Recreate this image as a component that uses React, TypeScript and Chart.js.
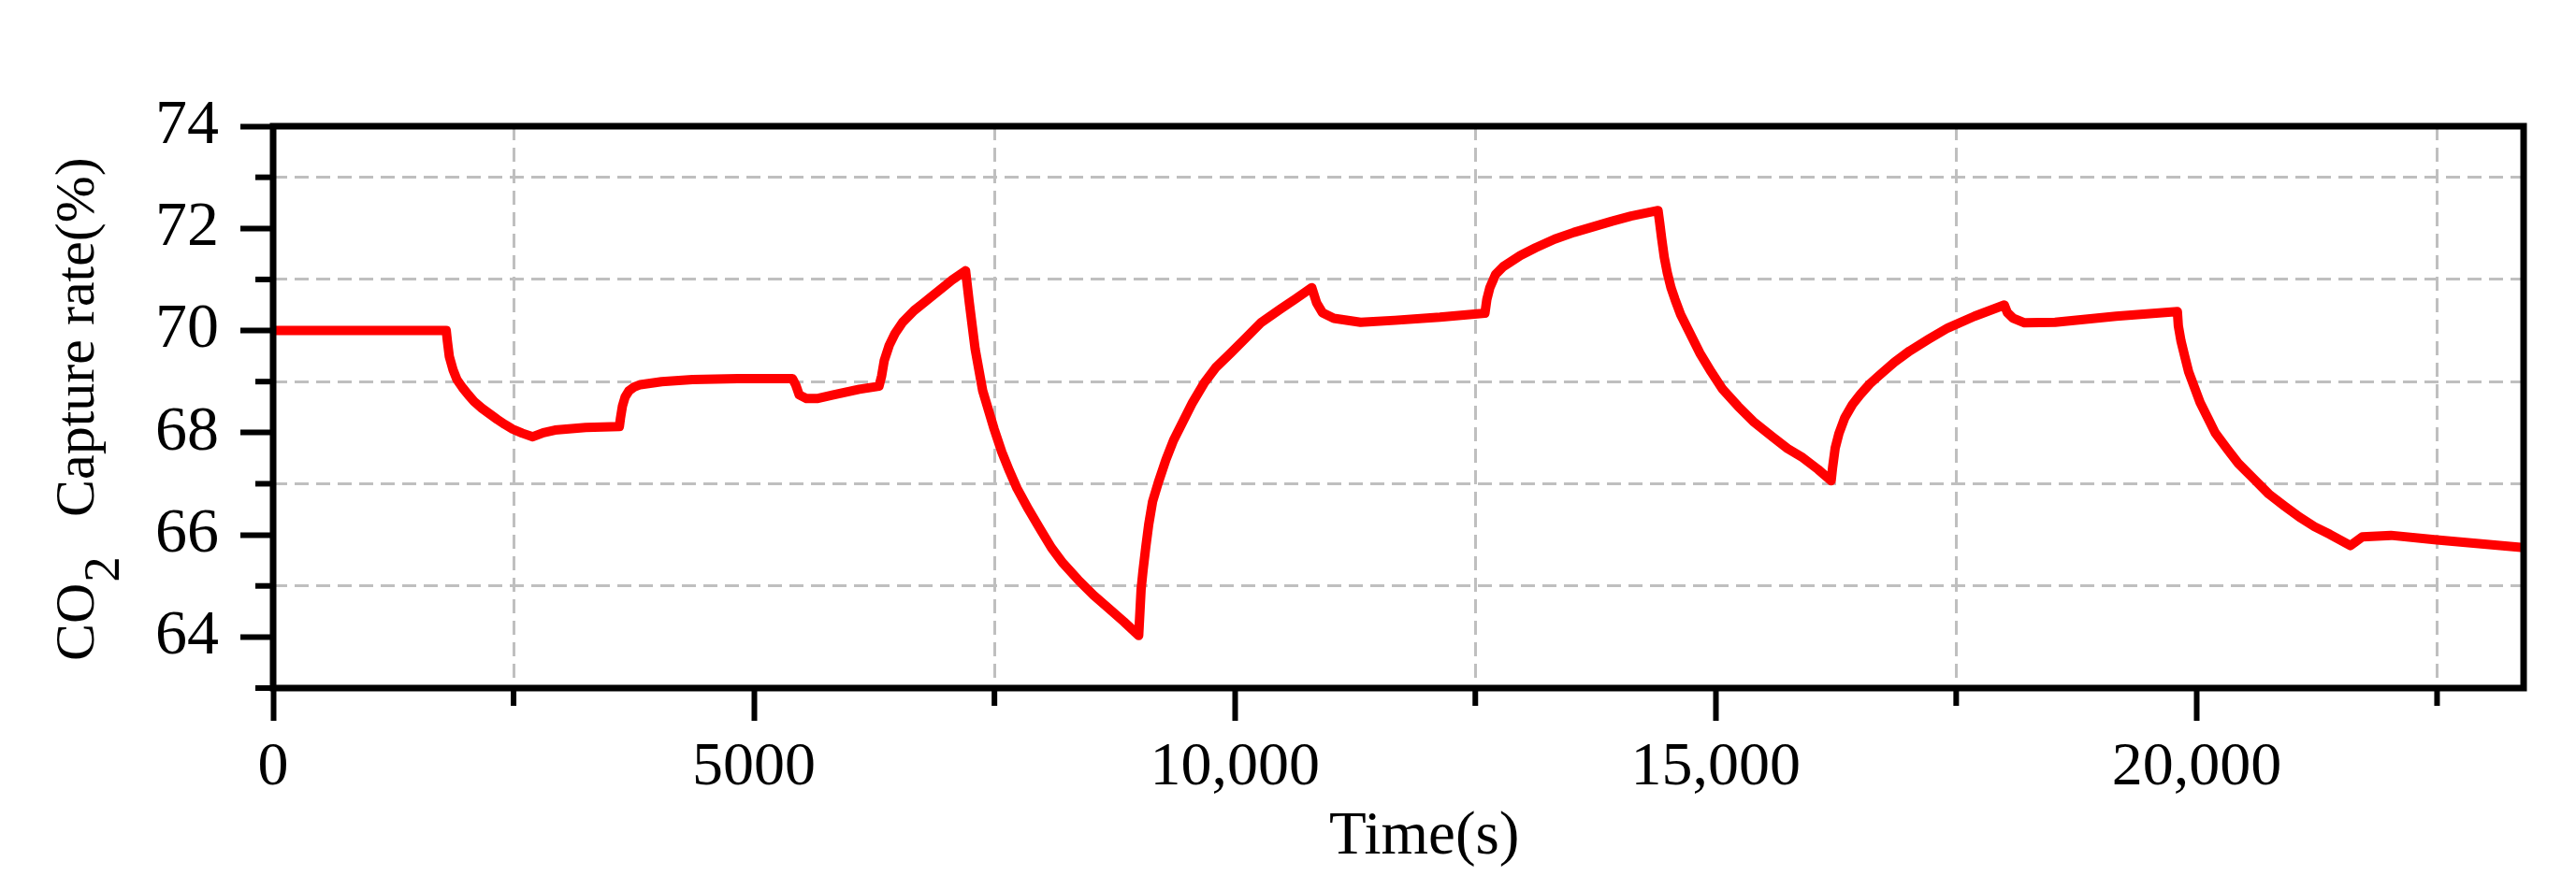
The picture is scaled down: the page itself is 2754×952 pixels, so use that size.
import { useEffect, useRef } from 'react';
import { Chart, ChartConfiguration, Plugin, registerables } from 'chart.js';

Chart.register(...registerables);

// CO2 capture rate over time
const timeS = [
  0, 1800, 1812, 1832, 1871, 1911, 1970, 2030, 2090, 2170, 2250, 2330, 2410, 2490, 2590, 2700,
  2810, 2930, 3250, 3600,
  3612, 3632, 3660, 3700, 3750, 3818, 4040, 4360, 4830, 5400,
  5435, 5470, 5545, 5665, 5825, 6095, 6300,
  6327, 6354, 6406, 6466, 6545, 6664, 6763, 6862, 6962, 7061, 7200,
  7239, 7299, 7378, 7497, 7577, 7656, 7735, 7854, 7973, 8092, 8211, 8370, 8529, 8688, 8846, 9000,
  9025, 9045, 9073, 9104, 9144, 9203, 9283, 9362, 9461, 9560, 9680, 9799, 9957, 10116, 10275, 10473, 10632, 10800,
  10850, 10910, 11029, 11307, 11664, 12132, 12600,
  12620, 12651, 12711, 12790, 12969, 13127, 13326, 13524, 13723, 13921, 14119, 14400,
  14417, 14437, 14465, 14496, 14536, 14576, 14635, 14715, 14834, 14953, 15072, 15231, 15390, 15588, 15746, 15905, 16064, 16200,
  16215, 16242, 16282, 16341, 16421, 16500, 16599, 16699, 16857, 17016, 17214, 17413, 17691, 18000,
  18032, 18092, 18211, 18528, 19163, 19800,
  19810, 19838, 19877, 19917, 19977, 20036, 20116, 20195, 20314, 20433, 20592, 20750, 20909, 21068, 21226, 21385, 21600,
  21723, 22020, 22496, 23400,
];

const captureRate = [
  70.0, 70.0, 69.79, 69.49, 69.23, 69.04, 68.88, 68.74, 68.61, 68.48, 68.37, 68.26, 68.16, 68.07, 67.99, 67.92,
  68.0, 68.05, 68.1, 68.12,
  68.29, 68.52, 68.7, 68.82, 68.89, 68.94, 69.0, 69.04, 69.06, 69.06,
  68.93, 68.74, 68.67, 68.67, 68.74, 68.85, 68.91,
  69.11, 69.41, 69.71, 69.94, 70.16, 70.39, 70.54, 70.69, 70.84, 70.99, 71.17,
  70.54, 69.64, 68.82, 68.07, 67.62, 67.25, 66.91, 66.5, 66.12, 65.75, 65.45, 65.12, 64.82, 64.56, 64.3, 64.03,
  64.93, 65.3, 65.75, 66.2, 66.65, 67.02, 67.47, 67.85, 68.22, 68.59, 68.97, 69.27, 69.56, 69.86, 70.16, 70.42, 70.62, 70.84,
  70.54, 70.35, 70.24, 70.16, 70.2, 70.26, 70.34,
  70.61, 70.84, 71.1, 71.25, 71.47, 71.62, 71.79, 71.92, 72.03, 72.14, 72.24, 72.35,
  72.11, 71.81, 71.43, 71.13, 70.83, 70.61, 70.31, 70.01, 69.56, 69.19, 68.85, 68.52, 68.22, 67.92, 67.69, 67.51, 67.28, 67.06,
  67.32, 67.7, 67.99, 68.29, 68.55, 68.74, 68.95, 69.12, 69.38, 69.6, 69.83, 70.05, 70.28, 70.5,
  70.35, 70.24, 70.15, 70.16, 70.28, 70.37,
  70.09, 69.79, 69.49, 69.19, 68.89, 68.59, 68.29, 67.99, 67.69, 67.4, 67.1, 66.8, 66.57, 66.35, 66.16, 66.01, 65.79,
  65.96, 65.99, 65.9, 65.75,
];

const xMajorTicks = [0, 5000, 10000, 15000, 20000];
const xMajorLabels = ['0', '5000', '10,000', '15,000', '20,000'];
const xMinorTicks = [2500, 7500, 12500, 17500, 22500];

const yMajorTicks = [64, 66, 68, 70, 72, 74];
const yMinorTicks = [63, 65, 67, 69, 71, 73];

const FONT = '"Liberation Serif", "Times New Roman", serif';
const GRID = '#bfbfbf';
const CLEAR = 'rgba(0,0,0,0)';

// frame, minor ticks and the axis titles
const framePlugin: Plugin<'line'> = {
  id: 'frame',
  afterDatasetsDraw(chart) {
    const { ctx, chartArea: a } = chart;
    const xs = chart.scales.x;
    const ys = chart.scales.y;
    ctx.save();
    ctx.strokeStyle = '#000';
    ctx.lineWidth = 6;
    xMinorTicks.forEach(v => {
      const px = xs.getPixelForValue(v);
      ctx.beginPath();
      ctx.moveTo(px, a.bottom);
      ctx.lineTo(px, a.bottom + 19);
      ctx.stroke();
    });
    yMinorTicks.forEach(v => {
      const py = ys.getPixelForValue(v);
      ctx.beginPath();
      ctx.moveTo(a.left, py);
      ctx.lineTo(a.left - 19, py);
      ctx.stroke();
    });
    ctx.lineWidth = 7;
    ctx.strokeRect(a.left, a.top, a.right - a.left, a.bottom - a.top);

    ctx.fillStyle = '#000';
    ctx.textAlign = 'left';
    ctx.textBaseline = 'alphabetic';
    ctx.font = `65px ${FONT}`;
    ctx.fillText('Time(s)', 1421, 913);

    ctx.translate(100, 707);
    ctx.rotate(-Math.PI / 2);
    ctx.font = `60px ${FONT}`;
    ctx.fillText('CO', 0, 0);
    const w = ctx.measureText('CO').width;
    ctx.font = `55px ${FONT}`;
    ctx.fillText('2', w + 1, 27);
    ctx.font = `60px ${FONT}`;
    ctx.fillText('Capture rate(%)', 154, 0);
    ctx.restore();
  },
};

export default function App() {
  const canvasRef = useRef<HTMLCanvasElement>(null);
  const chartRef = useRef<Chart | null>(null);

  useEffect(() => {
    document.body.style.margin = '0';
    if (!canvasRef.current) return;
    if (chartRef.current) chartRef.current.destroy();

    const config: ChartConfiguration<'line'> = {
      type: 'line',
      data: {
        datasets: [{
          data: timeS.map((t, i) => ({ x: t, y: captureRate[i] })),
          borderColor: '#ff0000',
          borderWidth: 10,
          borderJoinStyle: 'round',
          pointRadius: 0,
          tension: 0,
          fill: false,
        }],
      },
      options: {
        responsive: false,
        devicePixelRatio: 1,
        animation: false,
        layout: { padding: { top: 135, right: 56, left: 0, bottom: 0 } },
        plugins: {
          legend: { display: false },
          tooltip: { enabled: false },
        },
        scales: {
          x: {
            type: 'linear',
            min: 0,
            max: 23400,
            afterFit: s => { s.height = 216; },
            afterBuildTicks: s => {
              s.ticks = [...xMajorTicks, ...xMinorTicks].sort((a, b) => a - b).map(v => ({ value: v }));
            },
            ticks: {
              autoSkip: false,
              maxRotation: 0,
              padding: 11,
              color: '#000',
              font: { family: FONT, size: 66 },
              callback: v => {
                const i = xMajorTicks.indexOf(Number(v));
                return i >= 0 ? xMajorLabels[i] : '';
              },
            },
            grid: {
              color: c => (xMinorTicks.includes(c.tick?.value) ? GRID : CLEAR),
              lineWidth: 3,
              tickLength: 35,
              tickWidth: 6,
              tickColor: c => (xMajorTicks.includes(c.tick?.value) ? '#000' : CLEAR),
            },
            border: { display: false, dash: [15, 8] },
          },
          y: {
            min: 63,
            max: 74,
            afterFit: s => { s.width = 292; },
            afterBuildTicks: s => {
              s.ticks = [...yMajorTicks, ...yMinorTicks].sort((a, b) => a - b).map(v => ({ value: v }));
            },
            ticks: {
              autoSkip: false,
              padding: 23,
              color: '#000',
              font: { family: FONT, size: 68 },
              callback: v => (yMajorTicks.includes(Number(v)) ? String(v) : ''),
            },
            grid: {
              color: c => (yMinorTicks.includes(c.tick?.value) ? GRID : CLEAR),
              lineWidth: 3,
              tickLength: 35,
              tickWidth: 6,
              tickColor: c => (yMajorTicks.includes(c.tick?.value) ? '#000' : CLEAR),
            },
            border: { display: false, dash: [15, 8] },
          },
        },
      },
      plugins: [framePlugin],
    };

    chartRef.current = new Chart(canvasRef.current, config);

    return () => {
      if (chartRef.current) {
        chartRef.current.destroy();
        chartRef.current = null;
      }
    };
  }, []);

  return (
    <div style={{ width: 2754, height: 952, background: '#fff' }}>
      <canvas ref={canvasRef} width={2754} height={952} style={{ display: 'block' }} />
    </div>
  );
}
